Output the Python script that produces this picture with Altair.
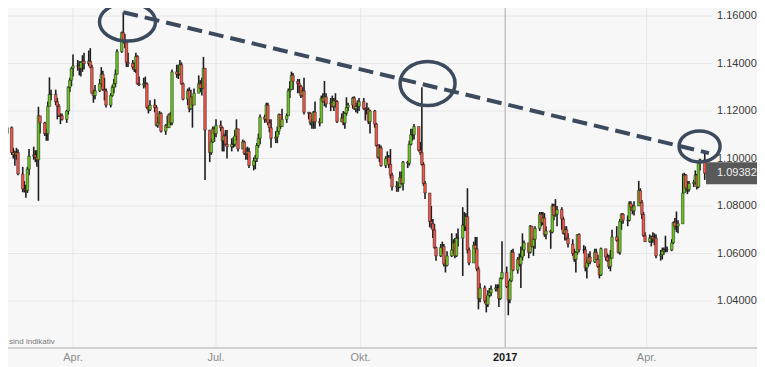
import altair as alt
import pandas as pd

# EUR/USD daily candles (values in pips above 1.0000, i.e. 1130 -> 1.1130)
FIRST_OPEN = 1106
CLOSE = [
    1130,
    1025, 1015, 1015, 1025, 935,
    872, 868, 865, 955, 1010,
    1015, 1005, 995, 1180, 1150,
    1105, 1105, 1220, 1270, 1270,
    1240, 1220, 1180, 1180, 1165,
    1200, 1300, 1330, 1380, 1390,
    1390, 1380, 1405, 1410, 1400,
    1410, 1385, 1275, 1265, 1285,
    1315, 1355, 1290, 1285, 1225,
    1265, 1300, 1315, 1355, 1450,
    1530, 1495, 1490, 1405, 1400,
    1385, 1375, 1430, 1315, 1310,
    1315, 1315, 1215, 1205, 1225,
    1215, 1140, 1150, 1190, 1115,
    1140, 1130, 1185, 1150, 1365,
    1355, 1355, 1395, 1315, 1250,
    1285, 1210, 1260, 1225, 1275,
    1315, 1295, 1295, 1380, 1120,
    1025, 1070, 1125, 1105, 1140,
    1130, 1075, 1095, 1060, 1050,
    1060, 1060, 1095, 1125, 1040,
    1070, 1020, 1020, 1030, 970,
    990, 1000, 1055, 1085, 1175,
    1165, 1225, 1150, 1130, 1085,
    1090, 1115, 1185, 1135, 1165,
    1180, 1285, 1290, 1350, 1325,
    1315, 1305, 1265, 1285, 1195,
    1190, 1150, 1155, 1195, 1155,
    1150, 1255, 1240, 1260, 1230,
    1235, 1220, 1245, 1240, 1155,
    1170, 1150, 1190, 1215, 1225,
    1255, 1210, 1220, 1220, 1240,
    1210, 1205, 1205, 1155, 1200,
    1145, 1055, 1005, 1045, 970,
    1000, 1005, 975, 930, 880,
    885, 880, 920, 895, 985,
    980, 1060, 1100, 1100, 1135,
    1035, 1025, 975, 895, 855,
    735, 725, 700, 625, 590,
    625, 630, 555, 550, 590,
    615, 645, 590, 665, 665,
    720, 715, 755, 615, 560,
    635, 620, 535, 410, 455,
    400, 385, 425, 435, 450,
    455, 455, 410, 495, 520,
    460, 405, 485, 605, 530,
    575, 555, 585, 615, 645,
    605, 715, 630, 660, 705,
    765, 730, 750, 680, 695,
    690, 800, 760, 765, 785,
    745, 685, 700, 665, 640,
    600, 575, 605, 680, 615,
    615, 540, 560, 585, 565,
    605, 575, 545, 510, 620,
    585, 570, 545, 580, 670,
    655, 605, 735, 765, 740,
    740, 810, 795, 780, 800,
    865, 815, 765, 675, 650,
    665, 670, 660, 665, 590,
    595, 610, 615, 615, 615,
    645, 730, 715, 715, 725,
    855, 930, 875, 870, 895,
    900, 930, 880, 980, 995,
    938,
]
HIGH = [
    1148,
    1135, 1045, 1033, 1045, 1038,
    965, 905, 890, 965, 1040,
    1050, 1035, 1035, 1218, 1170,
    1155, 1125, 1240, 1342, 1290,
    1290, 1255, 1230, 1190, 1190,
    1205, 1305, 1340, 1385, 1438,
    1415, 1410, 1410, 1435, 1445,
    1455, 1465, 1395, 1290, 1310,
    1335, 1385, 1370, 1340, 1295,
    1275, 1310, 1335, 1375, 1460,
    1535, 1616, 1525, 1495, 1445,
    1415, 1405, 1445, 1435, 1345,
    1340, 1345, 1320, 1225, 1245,
    1250, 1225, 1175, 1200, 1195,
    1145, 1180, 1190, 1195, 1375,
    1395, 1395, 1415, 1405, 1320,
    1295, 1300, 1290, 1255, 1295,
    1350, 1330, 1340, 1428, 1380,
    1105, 1085, 1135, 1135, 1165,
    1160, 1135, 1105, 1120, 1120,
    1085, 1090, 1120, 1165, 1120,
    1080, 1075, 1045, 1050, 1045,
    1005, 1015, 1065, 1105, 1185,
    1185, 1235, 1235, 1165, 1165,
    1115, 1135, 1190, 1185, 1210,
    1190, 1295, 1325, 1366, 1360,
    1335, 1335, 1310, 1300, 1340,
    1195, 1195, 1165, 1200, 1240,
    1170, 1265, 1275, 1327, 1275,
    1255, 1265, 1255, 1275, 1245,
    1190, 1200, 1195, 1258, 1235,
    1260, 1262, 1235, 1245, 1255,
    1255, 1215, 1235, 1215, 1205,
    1205, 1150, 1060, 1060, 1055,
    1010, 1030, 1015, 1040, 940,
    905, 900, 945, 945, 990,
    990, 1075, 1125, 1125, 1145,
    1080, 1070, 1300, 985, 905,
    825, 800, 745, 725, 630,
    640, 650, 640, 575, 610,
    685, 660, 665, 685, 705,
    795, 775, 770, 875, 625,
    650, 670, 670, 545, 475,
    465, 420, 445, 455, 465,
    470, 470, 470, 500, 652,
    545, 485, 495, 615, 620,
    585, 600, 630, 685, 655,
    635, 720, 715, 665, 715,
    775, 775, 775, 770, 715,
    700, 810, 810, 829, 800,
    795, 755, 715, 715, 685,
    660, 620, 610, 680, 685,
    635, 630, 575, 600, 610,
    620, 620, 595, 555, 625,
    610, 600, 595, 615, 700,
    715, 665, 745, 770, 770,
    760, 820, 820, 805, 820,
    906, 875, 825, 775, 690,
    680, 675, 690, 685, 680,
    615, 625, 625, 675, 630,
    660, 735, 750, 777, 740,
    937, 940, 935, 905, 905,
    910, 950, 935, 985, 999,
    1023,
]
LOW = [
    1095,
    1015, 1000, 970, 995, 930,
    858, 857, 835, 855, 930,
    995, 985, 965, 822, 1105,
    1095, 1075, 1075, 1235, 1245,
    1225, 1165, 1175, 1145, 1160,
    1150, 1185, 1280, 1305, 1345,
    1370, 1350, 1345, 1365, 1375,
    1390, 1380, 1275, 1235, 1250,
    1280, 1300, 1285, 1245, 1215,
    1215, 1260, 1275, 1300, 1355,
    1445, 1485, 1465, 1385, 1385,
    1375, 1365, 1360, 1310, 1305,
    1295, 1300, 1210, 1190, 1200,
    1195, 1135, 1130, 1150, 1110,
    1100, 1130, 1130, 1140, 1140,
    1340, 1335, 1350, 1310, 1245,
    1225, 1195, 1205, 1130, 1225,
    1290, 1280, 1265, 1295, 910,
    985, 1015, 1065, 1070, 1090,
    1115, 1030, 1030, 1055, 1000,
    1030, 1045, 1050, 1075, 1030,
    1040, 1015, 995, 995, 960,
    950, 955, 985, 1045, 1060,
    1150, 1155, 1140, 1110, 1045,
    1065, 1065, 1100, 1125, 1135,
    1150, 1180, 1255, 1290, 1290,
    1275, 1275, 1255, 1260, 1185,
    1165, 1140, 1125, 1125, 1125,
    1135, 1150, 1235, 1220, 1215,
    1200, 1215, 1200, 1215, 1150,
    1155, 1140, 1125, 1180, 1200,
    1210, 1205, 1195, 1190, 1200,
    1205, 1160, 1185, 1145, 1105,
    1130, 1050, 1000, 985, 965,
    960, 985, 960, 915, 865,
    860, 860, 875, 890, 865,
    960, 970, 1055, 1075, 1080,
    1030, 1015, 970, 885, 830,
    710, 705, 665, 620, 570,
    585, 600, 545, 520, 545,
    585, 600, 580, 585, 630,
    505, 695, 695, 600, 550,
    560, 600, 525, 365, 395,
    390, 352, 375, 415, 420,
    440, 440, 375, 405, 490,
    455, 340, 390, 480, 525,
    515, 545, 455, 570, 590,
    580, 600, 625, 590, 620,
    695, 715, 720, 670, 660,
    620, 685, 740, 755, 715,
    700, 680, 655, 655, 625,
    590, 565, 520, 595, 605,
    600, 525, 495, 545, 555,
    560, 575, 540, 495, 505,
    570, 565, 535, 525, 580,
    650, 600, 595, 700, 725,
    715, 735, 780, 765, 760,
    810, 810, 745, 670, 650,
    645, 630, 645, 635, 580,
    570, 575, 595, 605, 605,
    610, 640, 700, 690, 685,
    825, 855, 860, 850, 860,
    880, 890, 870, 875, 950,
    910,
]

LAST_PRICE = 1.09382
Y_TICKS = [1.04, 1.06, 1.08, 1.10, 1.12, 1.14, 1.16]
X_TICK_DATES = ["2016-04-01T00:00:00", "2016-07-01T00:00:00", "2016-10-01T00:00:00",
                "2017-01-01T00:00:00", "2017-04-01T00:00:00"]
X_TICK_LABELS = ["Apr.", "Jul.", "Okt.", "2017", "Apr."]
X_TICK_IS_YEAR = [False, False, False, True, False]

# trendline through the highs and the three circled touch points
TREND_DATES = ["2016-05-03T00:00:00", "2017-05-10T16:00:00"]
TREND_PRICES = [1.1616, 1.1023]
CIRCLE_DATES = ["2016-05-05T16:00:00", "2016-11-12T15:00:00", "2017-05-04T17:00:00"]
CIRCLE_PRICES = [1.1575, 1.1316, 1.1051]
CIRCLE_ASPECT = [0.68, 0.80, 0.756]
CIRCLE_SIZE = [3136, 3025, 1681]

GREEN = "#6cc51f"
RED = "#f2564a"
INK = "#3c4a5e"
BG = "#f7f7f7"
FONT = "Liberation Sans"
W, H = 704, 340

dates = pd.bdate_range("2016-02-19", "2017-05-08")
n = min(len(dates), len(CLOSE), len(HIGH), len(LOW))
opens = [FIRST_OPEN] + CLOSE[:-1]


def px(v):
    return 1 + v / 10000.0


df = pd.DataFrame({
    "date": [d.strftime("%Y-%m-%dT00:00:00") for d in dates[:n]],
    "open": [px(v) for v in opens[:n]],
    "close": [px(v) for v in CLOSE[:n]],
    "high": [px(v) for v in HIGH[:n]],
    "low": [px(v) for v in LOW[:n]],
})
df["dir"] = ["up" if c >= o else "down" for o, c in zip(df["open"], df["close"])]

xscale = alt.Scale(domain=[alt.DateTime(year=2016, month=2, date=19, hours=15),
                           alt.DateTime(year=2017, month=5, date=12, hours=15)],
                   nice=False, padding=0)
yscale = alt.Scale(domain=[1.0202, 1.1634], zero=False, nice=False, padding=0)


def X(field):
    return alt.X(field, scale=xscale, axis=None)


def Y(field):
    return alt.Y(field, scale=yscale, axis=None)


# --- axes drawn from the tick arrays ---
ytick_df = pd.DataFrame({"v": Y_TICKS, "label": [f"{v:.5f}" for v in Y_TICKS]})
y_grid = alt.Chart(ytick_df).mark_rule(color="#e6e6e6", strokeWidth=1).encode(
    y=Y("v:Q"), x=alt.value(0), x2=alt.value(W))
y_labels = alt.Chart(ytick_df).mark_text(align="left", baseline="middle", fontSize=11,
                                         font=FONT, color="#3a3a3a").encode(
    y=Y("v:Q"), x=alt.value(W + 5), text="label:N")

xtick_df = pd.DataFrame({"date": X_TICK_DATES, "label": X_TICK_LABELS, "year": X_TICK_IS_YEAR})
x_grid = alt.Chart(xtick_df).mark_rule(strokeWidth=1).encode(
    x=X("date:T"), y=alt.value(0), y2=alt.value(H),
    color=alt.condition("datum.year", alt.value("#ababab"), alt.value("#e4e9f0")))
x_labels_norm = alt.Chart(xtick_df).transform_filter("!datum.year").mark_text(
    align="center", baseline="middle", fontSize=11, font=FONT, color="#8c8c8c").encode(
    x=X("date:T"), y=alt.value(H + 9.5), text="label:N")
x_labels_year = alt.Chart(xtick_df).transform_filter("datum.year").mark_text(
    align="center", baseline="middle", fontSize=11, font=FONT, fontWeight="bold",
    color="#1a1a1a").encode(
    x=X("date:T"), y=alt.value(H + 9.5), text="label:N")
x_domain = alt.Chart(ytick_df.head(1)).mark_rule(color="#c6c6c6", strokeWidth=1.5).encode(
    x=alt.value(0), x2=alt.value(W + 45), y=alt.value(H))

# --- candles ---
base = alt.Chart(df)
wick = base.mark_rule(color="#1e1e1e", strokeWidth=1.6, clip=True).encode(
    x=X("date:T"), y=Y("low:Q"), y2="high:Q")
body = base.mark_bar(width=2.6, clip=True, stroke="#1e1e1e", strokeWidth=0.5).encode(
    x=X("date:T"), y=Y("open:Q"), y2="close:Q",
    color=alt.Color("dir:N", scale=alt.Scale(domain=["up", "down"], range=[GREEN, RED]), legend=None),
)

# --- annotations ---
trend_df = pd.DataFrame({"date": TREND_DATES, "price": TREND_PRICES})
trend = alt.Chart(trend_df).mark_line(color=INK, strokeWidth=4, strokeDash=[15, 7]).encode(
    x=X("date:T"), y=Y("price:Q"))


def ellipse_path(b):
    k = 0.5523
    return (f"M 1 0 C 1 {b*k:.3f} {k} {b} 0 {b} C {-k} {b} -1 {b*k:.3f} -1 0 "
            f"C -1 {-b*k:.3f} {-k} {-b} 0 {-b} C {k} {-b} 1 {-b*k:.3f} 1 0 Z")


circles = []
for d, p, a, s in zip(CIRCLE_DATES, CIRCLE_PRICES, CIRCLE_ASPECT, CIRCLE_SIZE):
    cdf = pd.DataFrame({"date": [d], "price": [p]})
    circles.append(
        alt.Chart(cdf).mark_point(shape=ellipse_path(a), size=s, filled=False, stroke=INK,
                                  strokeWidth=3.5, opacity=1).encode(
            x=X("date:T"), y=Y("price:Q"))
    )

last_df = pd.DataFrame({"price": [LAST_PRICE], "label": [f"{LAST_PRICE:.5f}"]})
box = alt.Chart(last_df).mark_point(
    shape="M -1 -0.373 L 1 -0.373 L 1 0.373 L -1 0.373 Z", size=3481, filled=True,
    color="#595959", opacity=1, strokeWidth=0).encode(
    x=alt.value(W - 6 + 29.5), y=Y("price:Q"))
box_text = alt.Chart(last_df).mark_text(align="left", baseline="middle", color="#f2f2f2",
                                        fontSize=11, font=FONT).encode(
    x=alt.value(W + 5), y=Y("price:Q"), text="label:N")

note = alt.Chart(pd.DataFrame({"t": ["sind indikativ"]})).mark_text(
    align="left", baseline="middle", fontSize=8, color="#7a7a7a", font=FONT).encode(
    x=alt.value(1), y=alt.value(H - 6), text="t:N")

chart = alt.layer(
    y_grid, x_grid, x_domain, wick, body, y_labels, x_labels_norm, x_labels_year,
    trend, *circles, box, box_text, note,
).properties(
    width=W, height=H,
    autosize=alt.AutoSizeParams(type="none"),
    padding={"left": 0, "top": 0, "right": 45, "bottom": 19},
    background=BG,
).configure_view(stroke=None)

chart.save("out.html", embed_options={"renderer": "svg", "actions": False})
